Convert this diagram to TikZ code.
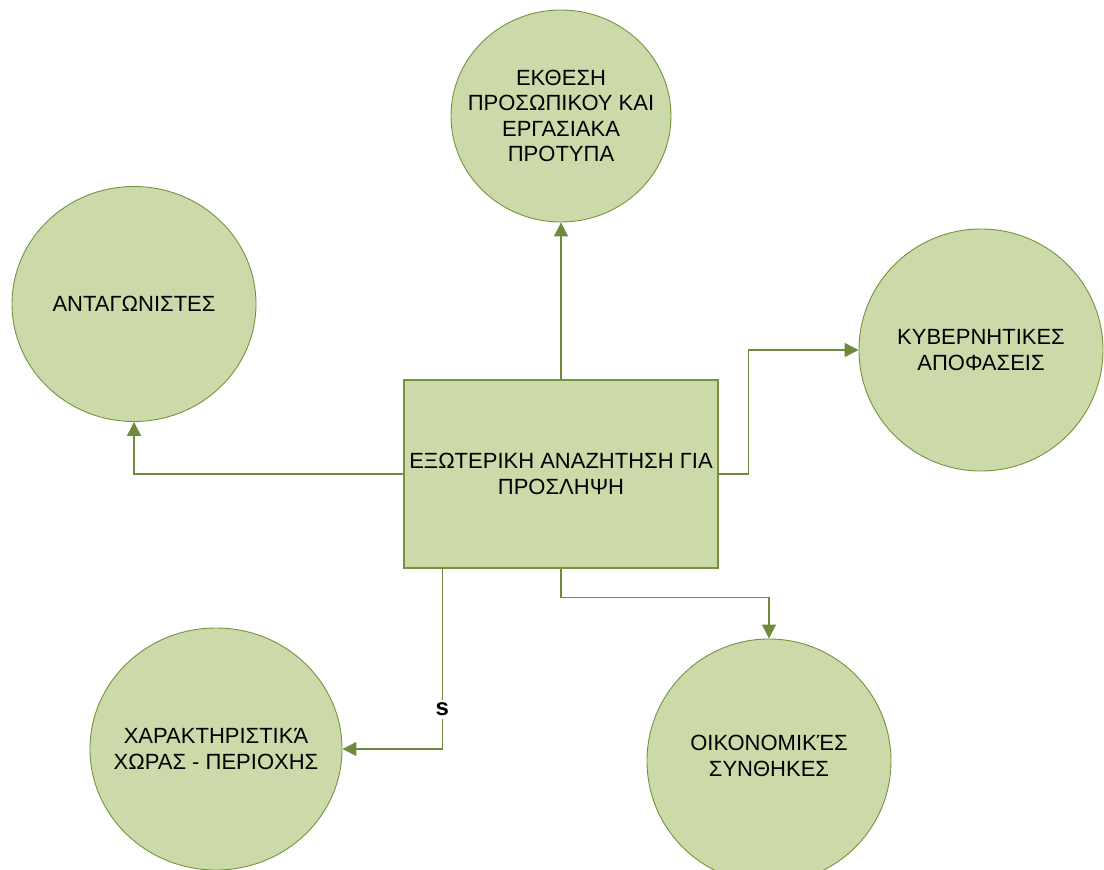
\documentclass[tikz,border=0pt]{standalone}
\usepackage{fontspec}
\setmainfont{Liberation Sans}
\usetikzlibrary{shapes.geometric,arrows.meta,calc}
\definecolor{boxfill}{RGB}{204,218,170}
\definecolor{boxline}{RGB}{118,146,60}
\definecolor{linkcol}{RGB}{110,138,60}
\begin{document}
\begin{tikzpicture}[x=1pt,y=-1pt,
  every node/.style={font=\fontsize{22}{25.5}\selectfont, text=black},
  topic/.style={ellipse, draw=boxline, fill=boxfill, line width=0.9pt,
    inner sep=0pt, label={[align=center]center:#1}},
  topicup/.style={ellipse, draw=boxline, fill=boxfill, line width=0.9pt,
    inner sep=0pt, label={[align=center, yshift=5pt]center:#1}},
  mainbox/.style={rectangle, draw=boxline, fill=boxfill, line width=1.3pt,
    align=center, minimum width=314pt, minimum height=188pt, inner sep=0pt},
  link/.style={draw=linkcol, line width=1.2pt,
    -{Triangle[length=14pt,width=14pt]}},
  tag/.style={fill=white, inner sep=3pt, font=\fontsize{24}{26}\selectfont\bfseries}]
\useasboundingbox (0,0) rectangle (1104,870);

% central box
\node[mainbox] (main) at (561,474) {ΕΞΩΤΕΡΙΚΗ ΑΝΑΖΗΤΗΣΗ ΓΙΑ\\ΠΡΟΣΛΗΨΗ};

% surrounding topics (text set as a centred label)
\node[topic={ΕΚΘΕΣΗ\\ΠΡΟΣΩΠΙΚΟΥ ΚΑΙ\\ΕΡΓΑΣΙΑΚΑ\\ΠΡΟΤΥΠΑ},
  minimum width=220pt, minimum height=212pt] (top) at (561,116) {};
\node[topic={ΑΝΤΑΓΩΝΙΣΤΕΣ},
  minimum width=244pt, minimum height=235pt] (left) at (134,304) {};
\node[topic={ΚΥΒΕΡΝΗΤΙΚΕΣ\\ΑΠΟΦΑΣΕΙΣ},
  minimum width=244pt, minimum height=242pt] (right) at (981,350) {};
\node[topic={ΧΑΡΑΚΤΗΡΙΣΤΙΚΆ\\ΧΩΡΑΣ - ΠΕΡΙΟΧΗΣ},
  minimum width=252pt, minimum height=242pt] (botL) at (216,749) {};
\node[topicup={ΟΙΚΟΝΟΜΙΚΈΣ\\ΣΥΝΘΗΚΕΣ},
  minimum width=244pt, minimum height=244pt] (botR) at (769,761) {};

% connectors
\draw[link] (main.north) -- (top.south);
\draw[link] (main.west) -| (left.south);
\draw[link] (main.east) -- ++(30,0) |- (right.west);
\draw[link] (main.south) -- ++(0,29) -| (botR.north);
\draw[link] ($(main.south west)+(39,0)$) |- node[tag, pos=0.39] {s} (botL.east);
\end{tikzpicture}
\end{document}
